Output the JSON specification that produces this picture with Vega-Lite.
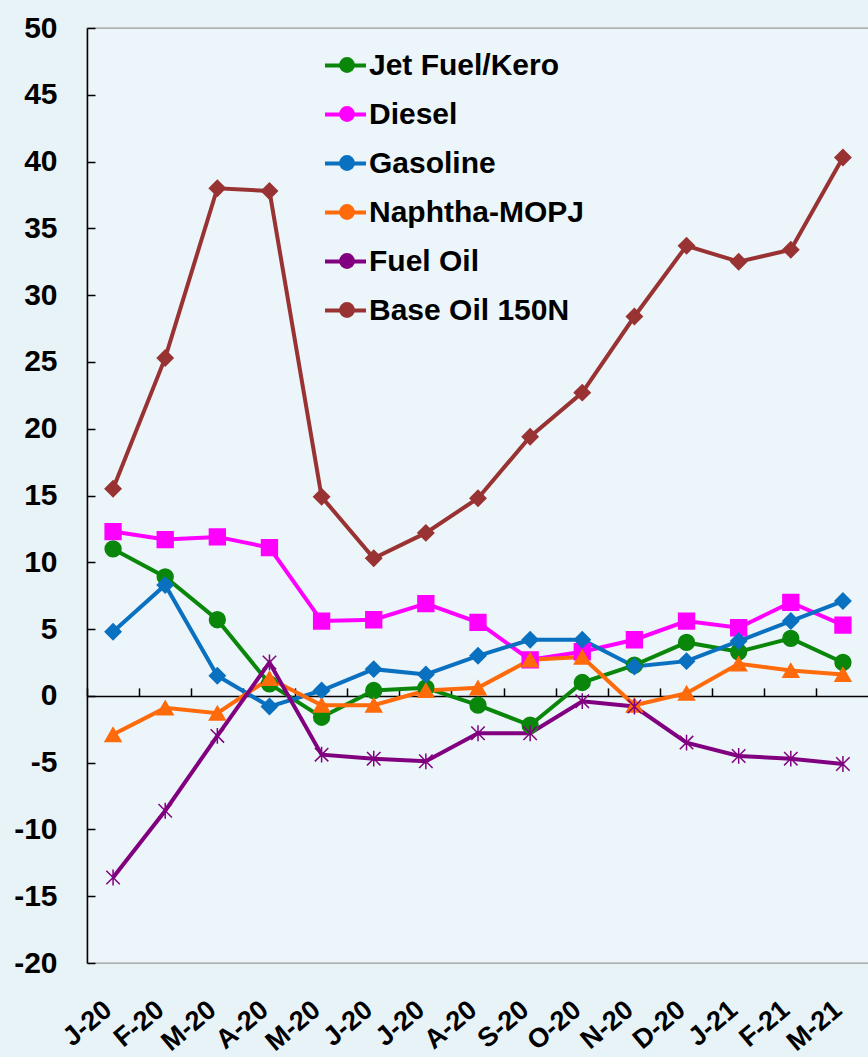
{
  "$schema": "https://vega.github.io/schema/vega-lite/v6.json",
  "autosize": {"type": "none"},
  "padding": {"left": 87, "top": 28, "right": 0, "bottom": 94},
  "width": 782,
  "height": 935,
  "background": "#e8f3f8",
  "config": {
    "view": {"fill": "#ecf5f9", "stroke": "#999999", "strokeWidth": 1.3},
    "font": "Liberation Sans"
  },
  "data": {
    "values": [
      {"m":"Jan-20","s":"Jet Fuel/Kero","v":11.0},{"m":"Feb-20","s":"Jet Fuel/Kero","v":8.9},{"m":"Mar-20","s":"Jet Fuel/Kero","v":5.7},{"m":"Apr-20","s":"Jet Fuel/Kero","v":0.9},{"m":"May-20","s":"Jet Fuel/Kero","v":-1.6},{"m":"Jun-20","s":"Jet Fuel/Kero","v":0.4},{"m":"Jul-20","s":"Jet Fuel/Kero","v":0.6},{"m":"Aug-20","s":"Jet Fuel/Kero","v":-0.7},{"m":"Sep-20","s":"Jet Fuel/Kero","v":-2.2},{"m":"Oct-20","s":"Jet Fuel/Kero","v":1.0},{"m":"Nov-20","s":"Jet Fuel/Kero","v":2.3},{"m":"Dec-20","s":"Jet Fuel/Kero","v":4.0},{"m":"Jan-21","s":"Jet Fuel/Kero","v":3.3},{"m":"Feb-21","s":"Jet Fuel/Kero","v":4.3},{"m":"Mar-21","s":"Jet Fuel/Kero","v":2.5},
      {"m":"Jan-20","s":"Diesel","v":12.3},{"m":"Feb-20","s":"Diesel","v":11.7},{"m":"Mar-20","s":"Diesel","v":11.9},{"m":"Apr-20","s":"Diesel","v":11.1},{"m":"May-20","s":"Diesel","v":5.6},{"m":"Jun-20","s":"Diesel","v":5.7},{"m":"Jul-20","s":"Diesel","v":6.9},{"m":"Aug-20","s":"Diesel","v":5.5},{"m":"Sep-20","s":"Diesel","v":2.7},{"m":"Oct-20","s":"Diesel","v":3.3},{"m":"Nov-20","s":"Diesel","v":4.2},{"m":"Dec-20","s":"Diesel","v":5.6},{"m":"Jan-21","s":"Diesel","v":5.1},{"m":"Feb-21","s":"Diesel","v":7.0},{"m":"Mar-21","s":"Diesel","v":5.3},
      {"m":"Jan-20","s":"Gasoline","v":4.8},{"m":"Feb-20","s":"Gasoline","v":8.3},{"m":"Mar-20","s":"Gasoline","v":1.5},{"m":"Apr-20","s":"Gasoline","v":-0.8},{"m":"May-20","s":"Gasoline","v":0.4},{"m":"Jun-20","s":"Gasoline","v":2.0},{"m":"Jul-20","s":"Gasoline","v":1.6},{"m":"Aug-20","s":"Gasoline","v":3.0},{"m":"Sep-20","s":"Gasoline","v":4.2},{"m":"Oct-20","s":"Gasoline","v":4.2},{"m":"Nov-20","s":"Gasoline","v":2.2},{"m":"Dec-20","s":"Gasoline","v":2.6},{"m":"Jan-21","s":"Gasoline","v":4.1},{"m":"Feb-21","s":"Gasoline","v":5.6},{"m":"Mar-21","s":"Gasoline","v":7.1},
      {"m":"Jan-20","s":"Naphtha-MOPJ","v":-2.9},{"m":"Feb-20","s":"Naphtha-MOPJ","v":-0.9},{"m":"Mar-20","s":"Naphtha-MOPJ","v":-1.3},{"m":"Apr-20","s":"Naphtha-MOPJ","v":1.3},{"m":"May-20","s":"Naphtha-MOPJ","v":-0.7},{"m":"Jun-20","s":"Naphtha-MOPJ","v":-0.7},{"m":"Jul-20","s":"Naphtha-MOPJ","v":0.4},{"m":"Aug-20","s":"Naphtha-MOPJ","v":0.6},{"m":"Sep-20","s":"Naphtha-MOPJ","v":2.7},{"m":"Oct-20","s":"Naphtha-MOPJ","v":2.9},{"m":"Nov-20","s":"Naphtha-MOPJ","v":-0.7},{"m":"Dec-20","s":"Naphtha-MOPJ","v":0.2},{"m":"Jan-21","s":"Naphtha-MOPJ","v":2.4},{"m":"Feb-21","s":"Naphtha-MOPJ","v":1.9},{"m":"Mar-21","s":"Naphtha-MOPJ","v":1.6},
      {"m":"Jan-20","s":"Fuel Oil","v":-13.6},{"m":"Feb-20","s":"Fuel Oil","v":-8.6},{"m":"Mar-20","s":"Fuel Oil","v":-3.0},{"m":"Apr-20","s":"Fuel Oil","v":2.5},{"m":"May-20","s":"Fuel Oil","v":-4.4},{"m":"Jun-20","s":"Fuel Oil","v":-4.7},{"m":"Jul-20","s":"Fuel Oil","v":-4.9},{"m":"Aug-20","s":"Fuel Oil","v":-2.8},{"m":"Sep-20","s":"Fuel Oil","v":-2.8},{"m":"Oct-20","s":"Fuel Oil","v":-0.4},{"m":"Nov-20","s":"Fuel Oil","v":-0.8},{"m":"Dec-20","s":"Fuel Oil","v":-3.5},{"m":"Jan-21","s":"Fuel Oil","v":-4.5},{"m":"Feb-21","s":"Fuel Oil","v":-4.7},{"m":"Mar-21","s":"Fuel Oil","v":-5.1},
      {"m":"Jan-20","s":"Base Oil 150N","v":15.5},{"m":"Feb-20","s":"Base Oil 150N","v":25.3},{"m":"Mar-20","s":"Base Oil 150N","v":38.0},{"m":"Apr-20","s":"Base Oil 150N","v":37.8},{"m":"May-20","s":"Base Oil 150N","v":14.9},{"m":"Jun-20","s":"Base Oil 150N","v":10.3},{"m":"Jul-20","s":"Base Oil 150N","v":12.2},{"m":"Aug-20","s":"Base Oil 150N","v":14.8},{"m":"Sep-20","s":"Base Oil 150N","v":19.4},{"m":"Oct-20","s":"Base Oil 150N","v":22.7},{"m":"Nov-20","s":"Base Oil 150N","v":28.4},{"m":"Dec-20","s":"Base Oil 150N","v":33.7},{"m":"Jan-21","s":"Base Oil 150N","v":32.5},{"m":"Feb-21","s":"Base Oil 150N","v":33.4},{"m":"Mar-21","s":"Base Oil 150N","v":40.3}
    ]
  },
  "resolve": {"axis": {"x": "independent"}},
  "layer": [
    {
      "mark": {"type": "line", "strokeWidth": 4},
      "encoding": {
        "x": {
          "field": "m", "type": "ordinal",
          "sort": ["Jan-20","Feb-20","Mar-20","Apr-20","May-20","Jun-20","Jul-20","Aug-20","Sep-20","Oct-20","Nov-20","Dec-20","Jan-21","Feb-21","Mar-21"],
          "scale": {"type": "band", "paddingInner": 0, "paddingOuter": 0},
          "axis": {"orient": "bottom", "offset": -267.1, "labels": false, "domain": true, "domainColor": "black", "domainWidth": 1.5, "ticks": true, "tickSize": -8, "tickColor": "black", "tickWidth": 1.5, "bandPosition": 0, "grid": false, "title": null}
        },
        "y": {
          "field": "v", "type": "quantitative",
          "scale": {"domain": [-20, 50], "nice": false, "zero": false},
          "axis": {"values": [-20,-15,-10,-5,0,5,10,15,20,25,30,35,40,45,50], "labelExpr": "(datum.value < 0 ? '-' : '') + abs(datum.value)", "grid": false, "title": null, "domainColor": "black", "domainWidth": 1.5, "tickColor": "black", "tickWidth": 1.5, "tickSize": -8, "labelPadding": 38, "labelFontSize": 30, "labelFontWeight": "bold", "labelColor": "black", "labelFont": "Liberation Sans"}
        },
        "color": {
          "field": "s", "type": "nominal",
          "scale": {"domain": ["Jet Fuel/Kero","Diesel","Gasoline","Naphtha-MOPJ","Fuel Oil","Base Oil 150N"], "range": ["#0a870a","#ff00ff","#0a70c0","#ff6a0a","#800080","#993333"]},
          "legend": {
            "orient": "none", "legendX": 236, "legendY": 15, "title": null, "padding": 0,
            "symbolType": "stroke", "symbolSize": 1681, "symbolStrokeWidth": 4, "rowPadding": 11, "labelOffset": 1,
            "labelFontSize": 30, "labelFontWeight": "bold", "labelColor": "black", "labelFont": "Liberation Sans", "labelLimit": 400
          }
        }
      }
    },
    {
      "mark": {"type": "point", "filled": true, "opacity": 1, "strokeWidth": 1.5},
      "encoding": {
        "x": {
          "field": "m", "type": "ordinal",
          "sort": ["Jan-20","Feb-20","Mar-20","Apr-20","May-20","Jun-20","Jul-20","Aug-20","Sep-20","Oct-20","Nov-20","Dec-20","Jan-21","Feb-21","Mar-21"],
          "scale": {"type": "band", "paddingInner": 0, "paddingOuter": 0},
          "axis": {"orient": "bottom", "domain": false, "ticks": false, "grid": false, "title": null, "bandPosition": 0.5, "labelAngle": -40, "labelAlign": "right", "labelBaseline": "top", "labelPadding": 33, "labelOffset": -13, "labelFontSize": 27, "labelFontWeight": "bold", "labelColor": "black", "labelFont": "Liberation Sans", "labelExpr": "substring(datum.value,0,1) + '-' + substring(datum.value,4,6)"}
        },
        "y": {"field": "v", "type": "quantitative"},
        "shape": {
          "field": "s", "type": "nominal", "legend": null,
          "sort": ["Jet Fuel/Kero","Diesel","Gasoline","Naphtha-MOPJ","Fuel Oil","Base Oil 150N"],
          "scale": {"range": ["circle","square","diamond","triangle-up","M0,-1L0,1M-0.85,-0.85L0.85,0.85M-0.85,0.85L0.85,-0.85","diamond"]}
        },
        "fill": {
          "field": "s", "type": "nominal",
          "sort": ["Jet Fuel/Kero","Diesel","Gasoline","Naphtha-MOPJ","Fuel Oil","Base Oil 150N"],
          "scale": {"range": ["#0a870a","#ff00ff","#0a70c0","#ff6a0a","#800080","#993333"]},
          "legend": {
            "orient": "none", "legendX": 245, "legendY": 22, "title": null, "padding": 0,
            "symbolSize": 250, "symbolStrokeWidth": 1.5, "rowPadding": 19, "labelOffset": 0,
            "labelExpr": "''", "labelFontSize": 30,
            "encode": {"symbols": {
              "shape": {"value": {"expr": "datum.value === 'Jet Fuel/Kero' ? 'circle' : datum.value === 'Diesel' ? 'square' : datum.value === 'Gasoline' ? 'diamond' : datum.value === 'Naphtha-MOPJ' ? 'triangle-up' : datum.value === 'Fuel Oil' ? 'M0,-1L0,1M-0.85,-0.85L0.85,0.85M-0.85,0.85L0.85,-0.85' : 'diamond'"}},
              "size": {"value": {"expr": "datum.value === 'Gasoline' ? 200 : datum.value === 'Base Oil 150N' ? 300 : datum.value === 'Naphtha-MOPJ' ? 280 : 250"}},
              "stroke": {"value": {"expr": "scale('fill', datum.value)"}},
              "strokeWidth": {"value": 1.5}
            }}
          }
        },
        "stroke": {
          "field": "s", "type": "nominal", "legend": null,
          "sort": ["Jet Fuel/Kero","Diesel","Gasoline","Naphtha-MOPJ","Fuel Oil","Base Oil 150N"],
          "scale": {"range": ["#0a870a","#ff00ff","#0a70c0","#ff6a0a","#800080","#993333"]}
        },
        "size": {
          "field": "s", "type": "nominal", "legend": null,
          "sort": ["Jet Fuel/Kero","Diesel","Gasoline","Naphtha-MOPJ","Fuel Oil","Base Oil 150N"],
          "scale": {"range": [250, 250, 200, 280, 220, 320]}
        }
      }
    }
  ]
}
